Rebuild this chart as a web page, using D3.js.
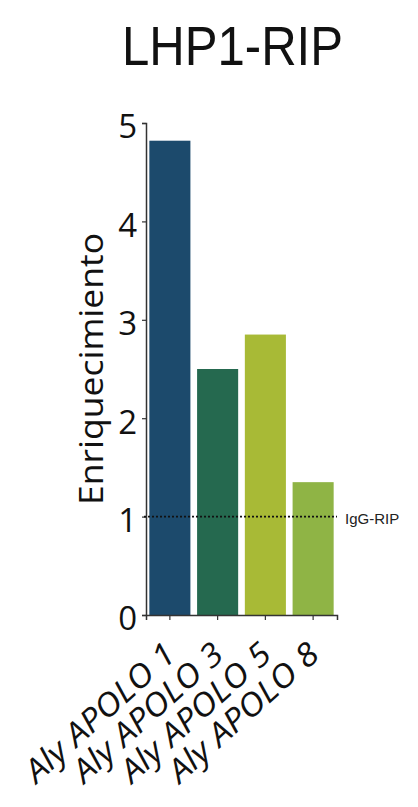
<!DOCTYPE html>
<html>
<head>
<meta charset="utf-8">
<script src="https://cdn.jsdelivr.net/npm/d3@7"></script>
<style>
  html, body { margin: 0; padding: 0; background: #ffffff; }
  svg { display: block; }
</style>
</head>
<body>
<script>
const categories = ["Aly APOLO 1", "Aly APOLO 3", "Aly APOLO 5", "Aly APOLO 8"];
const values = [4.82, 2.50, 2.85, 1.35];
const barColors = ["#1c4a6c", "#25694f", "#a8ba36", "#8fb445"];
const yTicks = [0, 1, 2, 3, 4, 5];
const refValue = 1;
const refLabel = "IgG-RIP";
const titleText = "LHP1-RIP";
const yLabel = "Enriquecimiento";

const W = 418, H = 807;
const svg = d3.select("body").append("svg").attr("width", W).attr("height", H);

const x0 = 146, x1 = 337, yTop = 123, yBot = 615;

const x = d3.scaleBand().domain(categories).range([x0, x1])
  .paddingInner(0.14).paddingOuter(0.07);
const y = d3.scaleLinear().domain([0, 5]).range([yBot, yTop]);

// Title
svg.append("text")
  .attr("x", 232.5).attr("y", 65)
  .attr("text-anchor", "middle")
  .attr("font-family", "Liberation Sans, Arial, sans-serif")
  .attr("font-size", 55)
  .attr("textLength", 221).attr("lengthAdjust", "spacingAndGlyphs")
  .attr("fill", "#111")
  .text(titleText);

// Bars
svg.append("g").selectAll("rect").data(categories).join("rect")
  .attr("x", d => x(d))
  .attr("y", (d, i) => y(values[i]))
  .attr("width", x.bandwidth())
  .attr("height", (d, i) => y(0) - y(values[i]))
  .attr("fill", (d, i) => barColors[i]);

// Y axis
const yAxis = svg.append("g").attr("transform", `translate(${x0},0)`)
  .call(d3.axisLeft(y).tickValues(yTicks).tickFormat(d3.format("d")).tickSize(4).tickPadding(5));
yAxis.select(".domain").attr("stroke", "#333").attr("stroke-width", 1.5);
yAxis.selectAll(".tick line").attr("stroke", "#333").attr("stroke-width", 1.2);
yAxis.selectAll(".tick text")
  .attr("font-family", "Open Sans, sans-serif")
  .attr("font-size", 33)
  .attr("dy", "0.45em")
  .attr("fill", "#111");

// X axis
const xAxis = svg.append("g").attr("transform", `translate(0,${yBot})`)
  .call(d3.axisBottom(x).tickSize(5).tickFormat(""));
xAxis.select(".domain").attr("stroke", "#333").attr("stroke-width", 1.5);
xAxis.selectAll(".tick line").attr("stroke", "#333").attr("stroke-width", 1.2);

// X labels rotated
svg.append("g").selectAll("text").data(categories).join("text")
  .attr("transform", d => `translate(${x(d) + x.bandwidth() / 2 + 8},${657}) rotate(-42)`)
  .attr("text-anchor", "end")
  .attr("font-family", "Open Sans, sans-serif")
  .attr("font-style", "italic")
  .attr("font-size", 32)
  .attr("textLength", 190).attr("lengthAdjust", "spacingAndGlyphs")
  .attr("fill", "#111")
  .text(d => d);

// Y label
svg.append("text")
  .attr("transform", `translate(103,369) rotate(-90)`)
  .attr("text-anchor", "middle")
  .attr("font-family", "Open Sans, sans-serif")
  .attr("font-size", 32)
  .attr("textLength", 272).attr("lengthAdjust", "spacingAndGlyphs")
  .attr("fill", "#111")
  .text(yLabel);

// Reference dotted line
svg.append("line")
  .attr("x1", x0 - 2).attr("x2", x1)
  .attr("y1", y(refValue)).attr("y2", y(refValue))
  .attr("stroke", "#111").attr("stroke-width", 1.6)
  .attr("stroke-dasharray", "2,2");
svg.append("text")
  .attr("x", 345).attr("y", y(refValue) + 7)
  .attr("font-family", "Liberation Sans, Arial, sans-serif")
  .attr("font-size", 15)
  .attr("fill", "#222")
  .text(refLabel);
</script>
</body>
</html>
